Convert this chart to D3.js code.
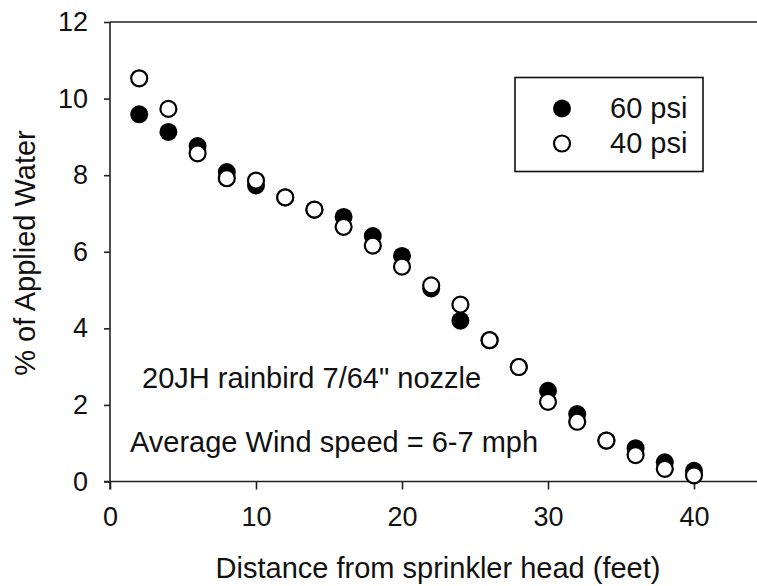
<!DOCTYPE html>
<html>
<head>
<meta charset="utf-8">
<script src="https://cdnjs.cloudflare.com/ajax/libs/d3/7.8.5/d3.min.js"></script>
<style>
    body { margin: 0; background: #fff; }
    #chart-area { width: 757px; height: 586px; }
    text { font-family: "Liberation Sans", Arial, sans-serif; fill: #111; }
</style>
</head>
<body>
<div id="chart-area"></div>
<script>

// data
let distances = [2, 4, 6, 8, 10, 12, 14, 16, 18, 20, 22, 24, 26, 28, 30, 32, 34, 36, 38, 40];
let psi60 = [9.59, 9.13, 8.76, 8.08, 7.73, 7.42, 7.10, 6.91, 6.41, 5.89, 5.04, 4.20, 3.69, 2.99, 2.37, 1.76, 1.07, 0.87, 0.50, 0.28];
let psi40 = [10.53, 9.73, 8.57, 7.92, 7.86, 7.42, 7.10, 6.65, 6.16, 5.61, 5.12, 4.62, 3.69, 2.99, 2.08, 1.56, 1.07, 0.69, 0.33, 0.16];
let xTicks = [0, 10, 20, 30, 40];
let yTicks = [0, 2, 4, 6, 8, 10, 12];
let seriesNames = ["60 psi", "40 psi"];
let notes = ["20JH rainbird 7/64\" nozzle", "Average Wind speed = 6-7 mph"];


class SprinklerPlot {

    constructor(parentElement) {
        this.parentElement = parentElement;
        this.initVis();
    }

    initVis() {
        let vis = this;

        vis.width = 757;
        vis.height = 586;
        vis.margin = {top: 22, right: 0, bottom: 104.5, left: 110};

        vis.svg = d3.select("#" + vis.parentElement).append("svg")
            .attr("width", vis.width)
            .attr("height", vis.height);

        // scales - x goes past 40 and gets cut at the right edge
        vis.x = d3.scaleLinear()
            .domain([0, 40])
            .range([vis.margin.left, 694]);

        vis.y = d3.scaleLinear()
            .domain([0, 12])
            .range([vis.height - vis.margin.bottom, vis.margin.top]);

        vis.wrangleData();
    }

    wrangleData() {
        let vis = this;

        vis.series = [
            {name: seriesNames[0], filled: true, values: distances.map((d, i) => ({x: d, y: psi60[i]}))},
            {name: seriesNames[1], filled: false, values: distances.map((d, i) => ({x: d, y: psi40[i]}))}
        ];

        vis.updateVis();
    }

    updateVis() {
        let vis = this;
        let x0 = vis.x(0), y0 = vis.y(0), yTop = vis.y(12);

        // x axis
        let xAxis = d3.axisBottom(vis.x)
            .tickValues(xTicks)
            .tickSize(8)
            .tickPadding(17)
            .tickFormat(d3.format("d"));

        let gx = vis.svg.append("g")
            .attr("transform", `translate(0, ${y0})`)
            .call(xAxis);
        gx.select(".domain").remove();
        gx.append("line")
            .attr("x1", x0 - 6).attr("x2", vis.width)
            .attr("stroke", "#222").attr("stroke-width", 1.6);

        // y axis
        let yAxis = d3.axisLeft(vis.y)
            .tickValues(yTicks)
            .tickSize(6)
            .tickPadding(16);

        let gy = vis.svg.append("g")
            .attr("transform", `translate(${x0}, 0)`)
            .call(yAxis);
        gy.select(".domain").remove();
        gy.append("line")
            .attr("y1", yTop).attr("y2", y0 + 8)
            .attr("stroke", "#222").attr("stroke-width", 1.6);

        vis.svg.selectAll(".tick line").attr("stroke", "#222").attr("stroke-width", 1.6);
        vis.svg.selectAll(".tick text")
            .style("font-size", "27px")
            .attr("fill", "#111");

        // top frame line
        vis.svg.append("line")
            .attr("x1", x0).attr("x2", vis.width)
            .attr("y1", yTop).attr("y2", yTop)
            .attr("stroke", "#222").attr("stroke-width", 1.6);

        // axis titles
        vis.svg.append("text")
            .attr("x", 438)
            .attr("y", 578)
            .attr("text-anchor", "middle")
            .style("font-size", "29px")
            .text("Distance from sprinkler head (feet)");

        vis.svg.append("text")
            .attr("transform", `translate(35, 253) rotate(-90)`)
            .attr("text-anchor", "middle")
            .style("font-size", "29px")
            .text("% of Applied Water");

        // points, open markers drawn last so they sit on top
        vis.series.forEach(s => {
            vis.svg.append("g")
                .selectAll("circle")
                .data(s.values)
                .enter()
                .append("circle")
                .attr("cx", d => vis.x(d.x))
                .attr("cy", d => vis.y(d.y))
                .attr("r", s.filled ? 9 : 8)
                .attr("fill", s.filled ? "#000" : "#fff")
                .attr("stroke", "#000")
                .attr("stroke-width", s.filled ? 0 : 2.2);
        });

        // notes
        vis.svg.append("text")
            .attr("x", 142).attr("y", 388)
            .style("font-size", "29px")
            .text(notes[0]);
        vis.svg.append("text")
            .attr("x", 130).attr("y", 452)
            .style("font-size", "29px")
            .text(notes[1]);

        // legend
        vis.legend = vis.svg.append("g")
            .attr("class", "legend")
            .attr("transform", "translate(515, 77.5)");

        vis.legend.append("rect")
            .attr("width", 188)
            .attr("height", 94)
            .attr("fill", "#fff")
            .attr("stroke", "#111")
            .attr("stroke-width", 1.6);

        let items = vis.legend.selectAll(".legend-item")
            .data(vis.series)
            .enter()
            .append("g")
            .attr("class", "legend-item")
            .attr("transform", (d, i) => `translate(0, ${31 + i * 35})`);

        items.append("circle")
            .attr("cx", 47)
            .attr("r", d => d.filled ? 9 : 8)
            .attr("fill", d => d.filled ? "#000" : "#fff")
            .attr("stroke", "#000")
            .attr("stroke-width", d => d.filled ? 0 : 2.2);

        items.append("text")
            .attr("x", 95)
            .attr("y", 9)
            .style("font-size", "29px")
            .text(d => d.name);
    }
}

new SprinklerPlot("chart-area");

</script>
</body>
</html>
